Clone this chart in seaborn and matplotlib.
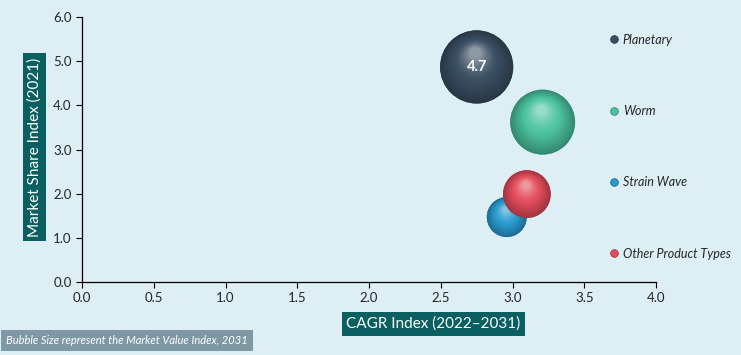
import numpy as np
import pandas as pd
import seaborn as sns
import matplotlib.pyplot as plt
import matplotlib.transforms as mtransforms
from matplotlib.colors import to_rgb
from matplotlib.lines import Line2D

# bubble data
types = ['Planetary', 'Worm', 'Strain Wave', 'Other Product Types']
cagr = [2.75, 3.21, 2.96, 3.10]
share = [4.87, 3.62, 1.47, 1.99]
value = [4.7, 3.7, 1.4, 2.0]
colors = ['#3b4f63', '#4cc39f', '#2a9bd0', '#e34d5b']

xticks = [0.0, 0.5, 1.0, 1.5, 2.0, 2.5, 3.0, 3.5, 4.0]
yticks = [0.0, 1.0, 2.0, 3.0, 4.0, 5.0, 6.0]

bg = '#ddeef4'
teal = '#0b5f60'

df = pd.DataFrame({'type': types, 'cagr': cagr, 'share': share, 'value': value})

sns.set_style('white')
plt.rcParams['font.family'] = ['Lato', 'DejaVu Sans']

fig = plt.figure(figsize=(7.41, 3.55), dpi=100, facecolor=bg)
ax = fig.add_axes([0.1107, 0.2056, 0.7746, 0.7464])
ax.set_facecolor(bg)

k = 590.0  # points^2 per unit of market value
sns.scatterplot(data=df, x='cagr', y='share', hue='type', palette=colors,
                size='value', sizes=(min(value) * k, max(value) * k),
                size_norm=(min(value), max(value)), legend=False,
                edgecolor='none', alpha=1, ax=ax, zorder=2)


def mix(c1, c2, t):
    a = np.array(to_rgb(c1))
    b = np.array(to_rgb(c2))
    return tuple(a * (1 - t) + b * t)


# fake 3d shading: stacked circles moving toward the highlight
n = 30
for i, row in df.iterrows():
    base = colors[i]
    s0 = row['value'] * k
    R = np.sqrt(s0) / 2
    dark = mix(base, '#000000', 0.3)
    light = mix(base, '#ffffff', 0.42)
    for j in range(n):
        t = j / (n - 1)
        r = R * (1 - 0.85 * t)
        dy = 0.38 * R * t
        if t < 0.5:
            c = mix(dark, base, t / 0.5)
        else:
            c = mix(base, light, ((t - 0.5) / 0.5) ** 1.3)
        tr = mtransforms.offset_copy(ax.transData, fig=fig, x=-0.04 * R * t, y=dy, units='points')
        ax.scatter([row['cagr']], [row['share']], s=(2 * r) ** 2, color=c,
                   edgecolor='none', transform=tr, zorder=3 + i * 0.01)

ax.text(cagr[0], share[0], '4.7', color='white', fontsize=10.5, fontweight='bold',
        ha='center', va='center', zorder=10)

ax.set_xlim(0, 4)
ax.set_ylim(0, 6)
ax.set_xticks(xticks)
ax.set_yticks(yticks)
ax.set_xticklabels([f'{v:.1f}' for v in xticks], fontsize=9.5)
ax.set_yticklabels([f'{v:.1f}' for v in yticks], fontsize=9.5)
ax.tick_params(direction='out', length=4, width=0.8, color='black', left=True, bottom=True)
sns.despine(ax=ax)
for sp in ['left', 'bottom']:
    ax.spines[sp].set_color('black')
    ax.spines[sp].set_linewidth(0.9)

ax.set_xlabel('CAGR Index (2022\u20132031)', fontsize=11, color='white', va='center',
              bbox=dict(boxstyle='square,pad=0.3', facecolor=teal, edgecolor='none'))
ax.xaxis.set_label_coords(0.612, -0.158)
ax.set_ylabel('Market Share Index (2021)', fontsize=11, color='white', va='center',
              bbox=dict(boxstyle='square,pad=0.3', facecolor=teal, edgecolor='none'))
ax.yaxis.set_label_coords(-0.083, 0.51)

handles = [Line2D([0], [0], marker='o', linestyle='none', markersize=5.5,
                  markerfacecolor=c, markeredgecolor=mix(c, '#000000', 0.3), markeredgewidth=0.6)
           for c in colors]
leg = fig.legend(handles, types, loc='upper left', bbox_to_anchor=(0.822, 0.905),
                 frameon=False, labelspacing=4.75, handlelength=0.8, handletextpad=0.3,
                 borderpad=0, borderaxespad=0, prop={'style': 'italic', 'size': 9})

fig.text(0.008, 0.04, 'Bubble Size represent the Market Value Index, 2031', fontsize=8,
         style='italic', color='white', va='center', ha='left',
         bbox=dict(boxstyle='square,pad=0.45', facecolor='#7f99a4', edgecolor='none'))

fig.savefig('out.png', dpi=100, facecolor=bg)
